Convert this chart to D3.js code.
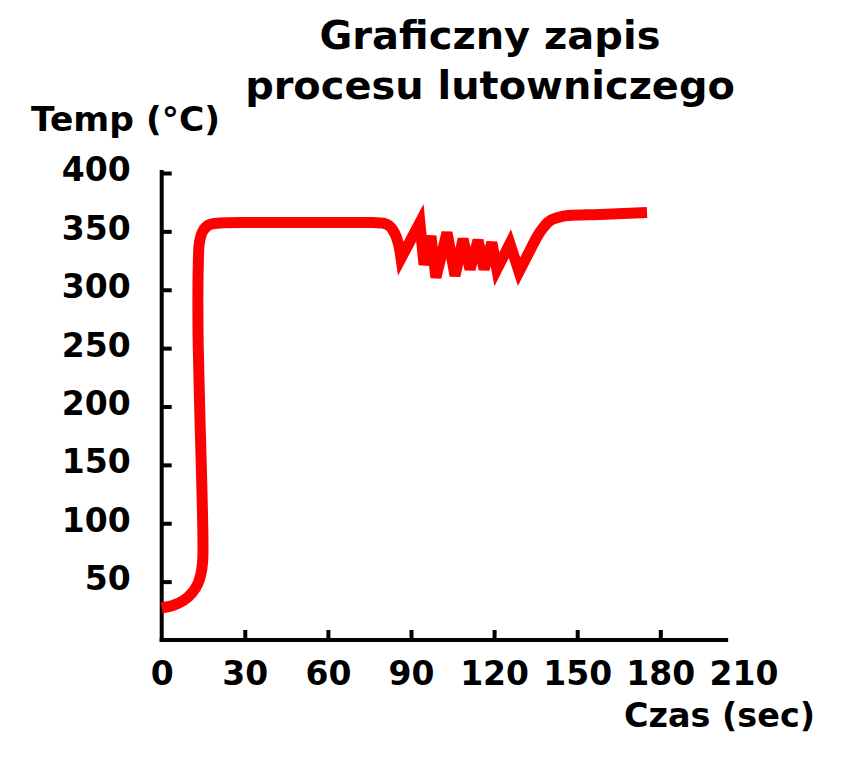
<!DOCTYPE html>
<html>
<head>
<meta charset="utf-8">
<script src="https://cdn.jsdelivr.net/npm/d3@7"></script>
<style>
  html, body { margin: 0; padding: 0; background: #fff; }
  svg { display: block; }
  text { font-family: "DejaVu Sans", Verdana, sans-serif; font-weight: bold; fill: #000; }
</style>
</head>
<body>
<svg id="chart" width="856" height="768"></svg>
<script>
// ---- data ----
const titleLines = ["Graficzny zapis", "procesu lutowniczego"];
const yLabel = "Temp (°C)";
const xLabel = "Czas (sec)";

const xTicks = [0, 30, 60, 90, 120, 150, 180, 210];
const yTicks = [50, 100, 150, 200, 250, 300, 350, 400];

// heating ramp and plateau (smooth part)
const rampTime = [0, 4, 8, 11, 13, 14.2, 14.8, 14.9, 14.8, 14.4, 13.9, 13.4, 13.1, 13.2, 13.6, 14.8, 17, 21, 40, 60, 76, 80, 82.3, 84.2, 85.5, 86.4];
const rampTemp = [27.5, 29.5, 34, 40.5, 48, 57, 68, 80, 100, 140, 182, 230, 268, 320, 340, 350, 355.5, 357.2, 357.5, 357.5, 357.5, 357, 354.5, 348, 339, 327];

// soldering oscillation (sharp zigzag)
const zigTime = [86.4, 93.2, 94.7, 97.2, 99.0, 103.0, 105.9, 108.8, 111.3, 114.2, 116.4, 119.2, 121.0, 125.7, 129.0];
const zigTemp = [327, 357.5, 321.5, 346, 310.5, 349, 312, 343.5, 317.5, 342.5, 317.5, 340.5, 317.5, 339.5, 315.5];

// recovery to final temperature
const endTime = [129.0, 131.9, 136.6, 139.5, 143.1, 146.7, 158.2, 175.2];
const endTemp = [315.5, 328.9, 349.5, 358, 361.9, 363.6, 364.4, 366.2];

const xAxisEnd = 204.5;

// ---- drawing ----
const svg = d3.select("#chart");
const x = d3.scaleLinear().domain([0, 210]).range([161.7, 743.4]);
const y = d3.scaleLinear().domain([0, 400]).range([640, 173]);

// scale a text element horizontally to a target width
function fitWidth(sel, target, anchorX, baseY, anchor) {
  sel.each(function () {
    const w = this.getComputedTextLength();
    const s = target / w;
    d3.select(this)
      .attr("x", 0).attr("y", 0)
      .attr("text-anchor", anchor)
      .attr("transform", `translate(${anchorX},${baseY}) scale(${s},1)`);
  });
}

// title
svg.selectAll("text.title").data(titleLines).join("text")
  .attr("class", "title")
  .attr("font-size", 39.5)
  .text(d => d)
  .each(function (d, i) {
    fitWidth(d3.select(this), i === 0 ? 341 : 490, 490, i === 0 ? 49 : 99, "middle");
  });

fitWidth(svg.append("text").attr("font-size", 33.5).text(yLabel), 189, 31, 131, "start");
fitWidth(svg.append("text").attr("font-size", 33.5).text(xLabel), 191, 815, 727, "end");

// y axis
const yAxis = d3.axisLeft(y).tickValues(yTicks).tickSizeInner(-10).tickSizeOuter(0).tickPadding(31);
const gy = svg.append("g").attr("transform", `translate(${x(0)},0)`).call(yAxis);
gy.select(".domain").attr("stroke", "#000").attr("stroke-width", 4).attr("d", `M0,${y(0) + 2}V${y(400) - 3}`);
gy.selectAll(".tick line").attr("stroke", "#000").attr("stroke-width", 4);
gy.selectAll(".tick text")
  .attr("font-size", 33).attr("font-family", "DejaVu Sans").attr("font-weight", "bold")
  .attr("fill", "#000").attr("dy", "0.24em");

// x axis
const xAxis = d3.axisBottom(x).tickValues(xTicks).tickSizeInner(-10).tickSizeOuter(0).tickPadding(22);
const gx = svg.append("g").attr("transform", `translate(0,${y(0)})`).call(xAxis);
gx.select(".domain").attr("stroke", "#000").attr("stroke-width", 4).attr("d", `M${x(0) - 2},0H${x(xAxisEnd)}`);
gx.selectAll(".tick line").attr("stroke", "#000").attr("stroke-width", 4)
  .attr("display", d => (d === 0 || d > xAxisEnd) ? "none" : null);
gx.selectAll(".tick text")
  .attr("font-size", 33).attr("font-family", "DejaVu Sans").attr("font-weight", "bold")
  .attr("fill", "#000").attr("dy", "0.71em");

// temperature curve
const toPts = (ts, vs) => ts.map((t, i) => [t, vs[i]]);
const smooth = d3.line().x(d => x(d[0])).y(d => y(d[1])).curve(d3.curveCatmullRom.alpha(0.5));
const sharp = d3.line().x(d => x(d[0])).y(d => y(d[1])).curve(d3.curveLinear);
const mono = d3.line().x(d => x(d[0])).y(d => y(d[1])).curve(d3.curveMonotoneX);

const cont = s => "L" + s.slice(1);
const pathD = smooth(toPts(rampTime, rampTemp)) +
  cont(sharp(toPts(zigTime, zigTemp))) +
  cont(mono(toPts(endTime, endTemp)));

svg.append("path")
  .attr("d", pathD)
  .attr("fill", "none")
  .attr("stroke", "#ff0000")
  .attr("stroke-width", 11)
  .attr("stroke-linejoin", "miter")
  .attr("stroke-miterlimit", 4)
  .attr("stroke-linecap", "butt");
</script>
</body>
</html>
